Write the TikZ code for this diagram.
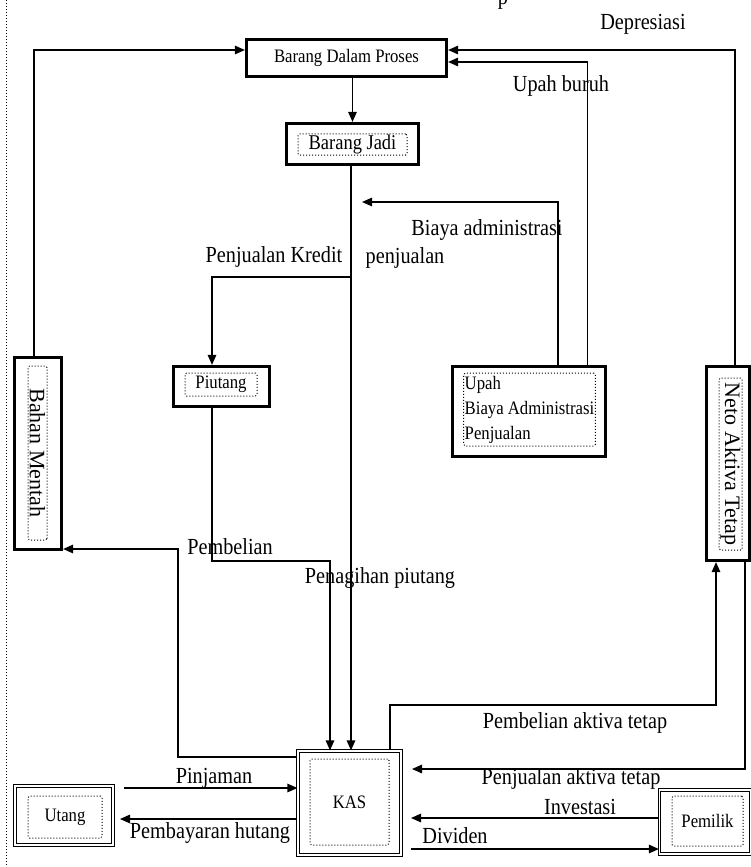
\documentclass[tikz,border=0pt]{standalone}
\usepackage{fontspec}
\setmainfont{Liberation Serif}[FakeStretch=0.88]
\newfontfamily\uprightfont{Liberation Serif}
\usetikzlibrary{arrows.meta}
\newcommand\lblfont{\fontsize{23}{26}\selectfont}
\newcommand\boxfont{\fontsize{19}{25}\selectfont}
\newcommand\sidefont{\uprightfont\fontsize{22}{24}\selectfont}

\begin{document}
\begin{tikzpicture}[x=1pt,y=-1pt,
  box/.style={draw, line width=3.2pt, inner sep=0pt},
  dbox/.style={draw, double, line width=1.2pt, double distance=1.1pt, inner sep=0pt},
  inbox/.style={draw, dotted, line width=1pt, rounded corners=1.5pt, inner sep=1pt, font=\boxfont},
  flow/.style={line width=1.4pt, -{Triangle[length=10pt,width=8.5pt]}},
  lbl/.style={font=\lblfont, inner sep=0pt, anchor=base},
]
\useasboundingbox (0,0) rectangle (750,867);
\fill[white] (0,0) rectangle (750,867);

% left margin rule
\coordinate (mtop) at (6,0);
\coordinate (mbot) at (6,867);
\draw[dotted, line width=1pt] (mtop) -- (mbot);

% tail of a letter from the line above
\node[lbl] (cut) at (503,5) {p};

% accounts
\node[box, font=\boxfont, minimum width=200pt, minimum height=37pt] (bdp) at (346.5,58) {Barang Dalam Proses};

\node[box, minimum width=132pt, minimum height=41pt] (bj) at (352.5,144) {};
\node[inbox, font=\fontsize{21}{24}\selectfont, minimum width=109pt, minimum height=19pt] (bjt) at (352.5,144.5) {Barang Jadi};

\node[box, minimum width=96pt, minimum height=40pt] (piutang) at (221.5,386.5) {};
\node[inbox, minimum width=72pt, minimum height=23pt] (piutangt) at (221,384.5) {Piutang};

\node[box, minimum width=47pt, minimum height=192pt] (bm) at (38,453.5) {};
\node[inbox, font=\sidefont, rotate=-90, minimum width=174pt, minimum height=19pt] (bmt) at (37.5,453) {Bahan Mentah};

\node[box, minimum width=153pt, minimum height=90pt] (upah) at (529,411.5) {};
\node[inbox, align=left, minimum width=129pt, minimum height=73pt] (upaht) at (529.5,409.5) {Upah\\Biaya Administrasi\\Penjualan};

\node[box, minimum width=43pt, minimum height=194pt] (neto) at (728,463.5) {};
\node[inbox, font=\sidefont, rotate=-90, minimum width=172pt, minimum height=23pt] (netot) at (730.5,464) {Neto Aktiva Tetap};

\node[dbox, minimum width=103pt, minimum height=104pt] (kas) at (349.5,803) {};
\node[inbox, minimum width=79pt, minimum height=86pt] (kast) at (349.5,802) {KAS};

\node[dbox, minimum width=98pt, minimum height=59pt] (utang) at (64,815.5) {};
\node[inbox, minimum width=74pt, minimum height=42pt] (utangt) at (65,817) {Utang};

\node[dbox, minimum width=91pt, minimum height=64pt] (pemilik) at (705,822) {};
\node[inbox, minimum width=71pt, minimum height=50pt] (pemilikt) at (707.5,821) {Pemilik};

% free ends and bends
\coordinate (admtip) at (362,202);
\coordinate (kredit) at (351,277);
\coordinate (tagih) at (330,561);
\coordinate (beli) at (178,549);
\coordinate (pinjam) at (124,788);
\coordinate (bayar) at (120,819);
\coordinate (aktbeli) at (716,705);
\coordinate (aktjual) at (412,769);
\coordinate (invest) at (411,818);
\coordinate (divid) at (411,849);

% flows
\draw[flow] ([xshift=-4pt]bm.north) |- ([yshift=8pt]bdp.west);
\draw[flow] ([xshift=7pt]neto.north) |- ([yshift=8pt]bdp.east);
\draw[flow] ([xshift=58.5pt]upah.north) |- ([yshift=-4pt]bdp.east);
\draw[flow] (bj.north |- bdp.south) -- (bj.north);
\draw[flow] ([xshift=-1.5pt]bj.south) -- ([xshift=1.5pt]kas.north);
\draw[flow] ([xshift=29pt]upah.north) |- (admtip);
\draw[flow] (kredit) -| ([xshift=-9.5pt]piutang.north);
\draw[flow] ([xshift=-9.5pt]piutang.south) |- (tagih) -- ([xshift=-19.5pt]kas.north);
\draw[flow] ([yshift=46pt]kas.west) -| (beli) -- ([yshift=-95.5pt]bm.east);
\draw[flow] (pinjam) -- ([yshift=15pt]kas.west);
\draw[flow] ([yshift=-16pt]kas.west) -- (bayar);
\draw[flow] ([xshift=40.5pt]kas.north) |- (aktbeli) -- ([xshift=-12pt]neto.south);
\draw[flow] ([xshift=17pt]neto.south) |- (aktjual);
\draw[flow] ([yshift=4pt]pemilik.west) -- (invest);
\draw[flow] (divid) -- ([yshift=-27pt]pemilik.west);

% flow labels
\node[lbl] (tdep) at (643,30) {Depresiasi};
\node[lbl] (tupah) at (561,91) {Upah buruh};
\node[lbl] (tadm) at (487,235) {Biaya administrasi};
\node[lbl] (tpenj) at (405,263) {penjualan};
\node[lbl] (tkred) at (274,262) {Penjualan Kredit};
\node[lbl] (tbeli) at (230,554) {Pembelian};
\node[lbl] (ttagih) at (380,583) {Penagihan piutang};
\node[lbl] (taktb) at (575,728) {Pembelian aktiva tetap};
\node[lbl] (taktj) at (571,784) {Penjualan aktiva tetap};
\node[lbl] (tinv) at (580,814) {Investasi};
\node[lbl] (tdiv) at (455,843) {Dividen};
\node[lbl] (tpinj) at (214,783) {Pinjaman};
\node[lbl] (tbayar) at (210,838) {Pembayaran hutang};
\end{tikzpicture}
\end{document}
